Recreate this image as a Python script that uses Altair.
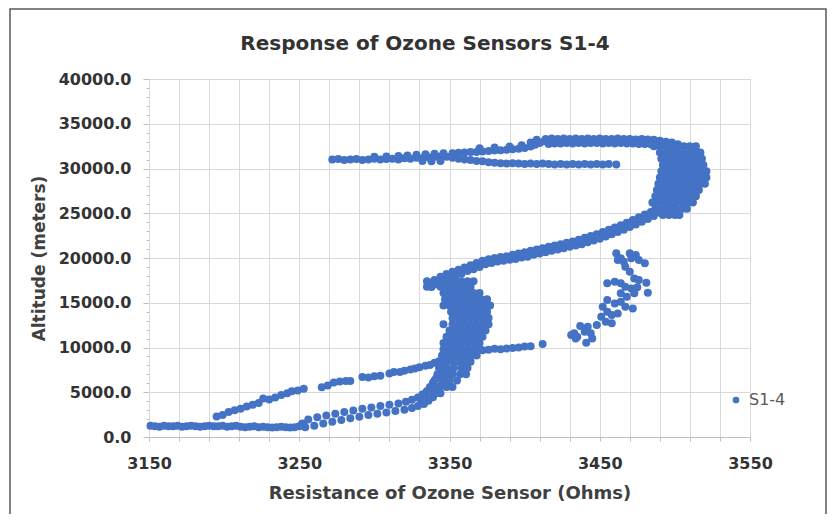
import altair as alt
import pandas as pd

# ---------------- data ----------------
# bottom horizontal run
floor_x = [3151,3154,3157,3160,3163,3166,3169,3172,3175,3178,3181,3184,3187,3190,3193,3196,3199,3202,3205,3208,3211,3214,3217,3220,3223,3226,3229,3232,3235,3238,3241,3244,3247,3250,3253]
floor_y = [1250,1200,1150,1250,1200,1200,1250,1150,1200,1250,1200,1150,1200,1250,1200,1200,1250,1150,1200,1250,1150,1100,1150,1200,1100,1150,1100,1050,1100,1150,1100,1050,1100,1200,1300]

# lower rising branch (two edges of the band)
rise_a_x = [3254,3260,3266,3272,3278,3284,3290,3296,3302,3308,3314,3320,3325,3329,3333,3336,3339,3341,3343,3345,3347,3349,3351]
rise_a_y = [1100,1250,1500,1700,1900,2100,2250,2450,2600,2750,2900,3050,3250,3450,3700,4050,4450,4900,5350,5850,6350,6950,7550]
rise_b_x = [3252,3256,3262,3268,3274,3280,3286,3292,3298,3304,3310,3316,3321,3325,3329,3332,3335,3337,3339,3341,3343,3345,3347]
rise_b_y = [1500,1950,2200,2400,2600,2800,2950,3150,3300,3450,3600,3750,3950,4150,4400,4750,5150,5600,6050,6550,7050,7650,8250]

# dashed upper-left branch
dash_x = [3195,3199,3203,3207,3211,3215,3219,3223,3226,3230,3234,3238,3242,3245,3249,3253,3265,3269,3273,3277,3281,3284,3292,3296,3300,3304,3310,3313,3317,3320,3324,3327,3330,3334,3337,3340,3343,3346]
dash_y = [2300,2450,2800,3000,3150,3400,3600,3800,4300,4200,4400,4700,4900,5100,5200,5400,5550,5750,6100,6200,6250,6250,6700,6650,6800,6850,7100,7250,7250,7400,7550,7650,7800,7950,8050,8300,8450,8550]

# dense vertical band around 3350-3377 ohms
band_levels = [4200,4900,5600,6300,7000,7700,8400,9100,9800,10500,11200,11900,12600,13300,14000,14700,15400,16100,16800,17400]
band_rows = [
    [3331,3336],
    [3334,3339,3344],
    [3338,3343,3348,3352],
    [3340,3345,3350,3355],
    [3342,3347,3352,3357,3361],
    [3343,3348,3353,3358,3362],
    [3344,3348,3352,3356,3360,3364],
    [3345,3349,3353,3357,3361,3365,3368],
    [3346,3350,3354,3358,3362,3366,3370],
    [3346,3350,3354,3358,3362,3366,3370],
    [3348,3352,3356,3360,3364,3368,3372],
    [3350,3354,3358,3362,3366,3370,3374],
    [3346,3352,3356,3360,3364,3368,3372,3376],
    [3352,3356,3360,3364,3368,3372,3376],
    [3351,3355,3359,3363,3367,3371,3375],
    [3346,3350,3354,3358,3362,3366,3370,3374,3377],
    [3347,3351,3355,3359,3363,3367,3371,3375],
    [3346,3350,3354,3358,3362,3366,3370],
    [3335,3344,3348,3352,3356,3360,3364],
    [3335,3342,3346,3350,3354,3358,3362,3366],
]

# short tail near 10000 m
tail_x = [3372,3376,3380,3384,3388,3392,3396,3400,3404,3412]
tail_y = [9700,9750,9850,9800,9900,9950,10000,10100,10150,10400]

# diagonal from the band up to the right bulge
diag_a_x = [3338,3342,3346,3350,3354,3358,3362,3366,3370,3374,3378,3382,3386,3390,3394,3398,3402,3406,3410,3414,3418,3422,3426,3430,3434,3438,3442,3446,3450,3454,3458,3462,3466,3470,3474,3478,3482,3486,3490,3494,3497]
diag_a_y = [16750,17050,17450,17800,18050,18250,18550,18750,19000,19300,19450,19600,19700,19800,19900,20050,20150,20350,20500,20650,20800,20950,21100,21250,21400,21550,21750,21950,22150,22400,22650,22900,23150,23450,23750,24050,24350,24700,25050,25450,25850]
diag_b_x = [3336,3340,3344,3348,3352,3356,3360,3364,3368,3372,3376,3380,3384,3388,3392,3396,3400,3404,3408,3412,3416,3420,3424,3428,3432,3436,3440,3444,3448,3452,3456,3460,3464,3468,3472,3476,3480,3484,3487]
diag_b_y = [17250,17550,17900,18200,18450,18700,18950,19200,19450,19700,19850,20000,20100,20200,20350,20500,20650,20800,20950,21100,21250,21400,21550,21700,21850,22050,22250,22450,22650,22900,23150,23400,23650,23950,24250,24550,24850,25150,25500]

# thick right bulge
bulge_levels = [32500,31800,31100,30400,29700,29000,28300,27600,26900,26200,25500,24800]
bulge_rows = [
    [3486,3490,3494,3498,3502,3506,3510,3514],
    [3490,3494,3498,3502,3506,3510,3514,3517],
    [3491,3495,3499,3503,3507,3511,3515,3518],
    [3492,3496,3500,3504,3508,3512,3516,3519],
    [3491,3495,3499,3503,3507,3511,3515,3519,3521],
    [3490,3494,3498,3502,3506,3510,3514,3518,3521],
    [3489,3493,3497,3501,3505,3509,3513,3517,3520],
    [3488,3492,3496,3500,3504,3508,3512,3516],
    [3487,3491,3495,3499,3503,3507,3511,3514],
    [3485,3489,3493,3497,3501,3505,3509,3512],
    [3489,3493,3497,3501,3505,3508],
    [3492,3496,3500,3503],
]

# top line of the loop
top_a_x = [3414,3418,3422,3426,3430,3434,3438,3442,3446,3450,3454,3458,3462,3466,3470,3474,3478,3482,3486,3490]
top_a_y = [33300,33350,33300,33350,33300,33350,33300,33350,33300,33350,33300,33300,33350,33300,33300,33250,33300,33250,33200,33100]
top_b_x = [3416,3420,3424,3428,3432,3436,3440,3444,3448,3452,3456,3460,3464,3468,3472,3476,3480,3484,3488,3494,3498,3502]
top_b_y = [32750,32800,32800,32850,32800,32850,32800,32850,32850,32800,32850,32800,32850,32800,32800,32750,32750,32700,32700,33000,32900,32700]

# upper arm joining the top line
arm_x = [3352,3356,3360,3364,3368,3372,3376,3380,3384,3388,3392,3396,3400,3404,3407,3410,3413,3370,3380,3390,3398,3404,3408]
arm_y = [31700,31750,31800,31850,31850,31900,31950,32000,32050,32100,32150,32200,32300,32450,32650,32850,33050,32250,32350,32450,32600,32900,33200]

# lower arm ending near 3462
low_x = [3352,3356,3360,3364,3368,3372,3376,3380,3384,3388,3392,3396,3400,3404,3408,3412,3416,3420,3424,3428,3432,3436,3440,3444,3448,3452,3456,3461]
low_y = [31200,31100,31000,30950,30850,30800,30700,30650,30600,30550,30600,30550,30500,30550,30500,30550,30500,30450,30500,30450,30500,30450,30500,30450,30500,30450,30500,30450]

# left tongue near 31000 m
tongue_x = [3272,3276,3280,3284,3288,3292,3296,3300,3304,3308,3312,3316,3320,3324,3328,3332,3336,3340,3344,3348,3300,3308,3316,3322,3328,3334,3340,3346,3332,3338,3344]
tongue_y = [31000,31050,30950,31000,31050,30950,31000,31100,31000,31050,31100,31000,31150,31100,31200,31150,31250,31300,31350,31300,31300,31350,31400,31450,31550,31600,31650,31700,30850,30800,30850]

# scattered cluster on the right
cl_x = [3461,3462,3464,3466,3470,3471,3474,3476,3480,3467,3470,3473,3476,3481,3455,3460,3464,3467,3471,3475,3464,3468,3473,3482,3455,3460,3464,3467,3472,3452,3455,3458,3462,3451,3454,3458,3448,3442,3440,3444,3433,3431,3435,3441,3437,3445,3434]
cl_y = [20520,19770,19960,19580,20520,19960,20330,19770,19400,19030,18470,17720,17540,17240,17170,17350,17170,16790,16600,16720,16050,15680,16050,16120,15300,14930,15110,14550,14370,14550,13990,13620,13810,13440,12880,12700,12510,12330,11760,11580,11580,11390,11200,10530,12400,11000,11000]

series_name = "S1-4"
chart_title = "Response of Ozone Sensors S1-4"

# ---------------- build table ----------------
xs, ys = [], []
for fx, fy in [(floor_x, floor_y), (rise_a_x, rise_a_y), (rise_b_x, rise_b_y),
               (dash_x, dash_y), (tail_x, tail_y), (diag_a_x, diag_a_y),
               (diag_b_x, diag_b_y), (top_a_x, top_a_y), (top_b_x, top_b_y),
               (arm_x, arm_y), (low_x, low_y), (tongue_x, tongue_y), (cl_x, cl_y)]:
    xs += fx
    ys += fy
for lvl, row in zip(band_levels, band_rows):
    xs += row
    ys += [lvl] * len(row)
for lvl, row in zip(bulge_levels, bulge_rows):
    xs += row
    ys += [lvl] * len(row)

df = pd.DataFrame({"ohms": xs, "altitude": ys, "series": series_name})

FONT = "DejaVu Sans"
x_minor = list(range(3150, 3551, 20))
y_minor = list(range(0, 40001, 1000))

points = alt.Chart(df).mark_circle(size=64, opacity=1).encode(
    x=alt.X("ohms:Q",
            scale=alt.Scale(domain=[3150, 3550], nice=False, zero=False),
            axis=alt.Axis(values=x_minor,
                          labelExpr="datum.value % 100 == 50 ? datum.label : ''",
                          format="d", grid=True, gridColor="#d9d9d9",
                          domainColor="#bfbfbf", tickColor="#bfbfbf", tickSize=4,
                          labelFont=FONT, labelFontSize=16, labelFontWeight="bold",
                          labelColor="#333333", labelPadding=14, labelFlush=False,
                          title="Resistance of Ozone Sensor (Ohms)",
                          titleFont=FONT, titleFontSize=18, titleFontWeight="bold",
                          titleColor="#404040", titlePadding=13)),
    y=alt.Y("altitude:Q",
            scale=alt.Scale(domain=[0, 40000], nice=False),
            axis=alt.Axis(values=y_minor,
                          labelExpr="datum.value % 5000 == 0 ? datum.label : ''",
                          format=".1f", grid=True, gridColor="#d9d9d9",
                          gridOpacity={"condition": {"test": "datum.value % 5000 === 0", "value": 1}, "value": 0},
                          tickSize={"condition": {"test": "datum.value % 5000 === 0", "value": 6}, "value": 3},
                          domainColor="#d9d9d9", tickColor="#bfbfbf",
                          labelFont=FONT, labelFontSize=16, labelFontWeight="bold",
                          labelColor="#333333", labelPadding=12, labelFlush=False,
                          title="Altitude (meters)",
                          titleFont=FONT, titleFontSize=17, titleFontWeight="bold",
                          titleColor="#404040", titlePadding=10)),
    color=alt.Color("series:N", scale=alt.Scale(range=["#4472C4"]),
                    legend=alt.Legend(orient="none", legendX=579, legendY=313,
                                      title=None, padding=0, symbolType="circle",
                                      symbolSize=45, symbolStrokeWidth=0,
                                      labelFont=FONT, labelFontSize=16,
                                      labelColor="#595959", labelOffset=5)),
)

frame = alt.Chart(pd.DataFrame({"k": [0]})).mark_rect(
    fillOpacity=0, stroke="#595959", strokeWidth=1.5
).encode(x=alt.value(-139), x2=alt.value(677), y=alt.value(-70), y2=alt.value(436))

title_text = alt.Chart(pd.DataFrame({"t": [chart_title]})).mark_text(
    font=FONT, fontSize=20, fontWeight="bold", color="#333333",
    align="center", baseline="middle"
).encode(x=alt.value(276), y=alt.value(-35), text="t:N")

chart = alt.layer(frame, title_text, points).properties(
    width=601, height=358,
    padding={"left": 141, "top": 71, "right": 78, "bottom": 77},
    autosize=alt.AutoSizeParams(type="none"),
).configure_view(stroke=None).configure(background="white")

chart.save("out.html", embed_options={"renderer": "svg", "actions": False})
